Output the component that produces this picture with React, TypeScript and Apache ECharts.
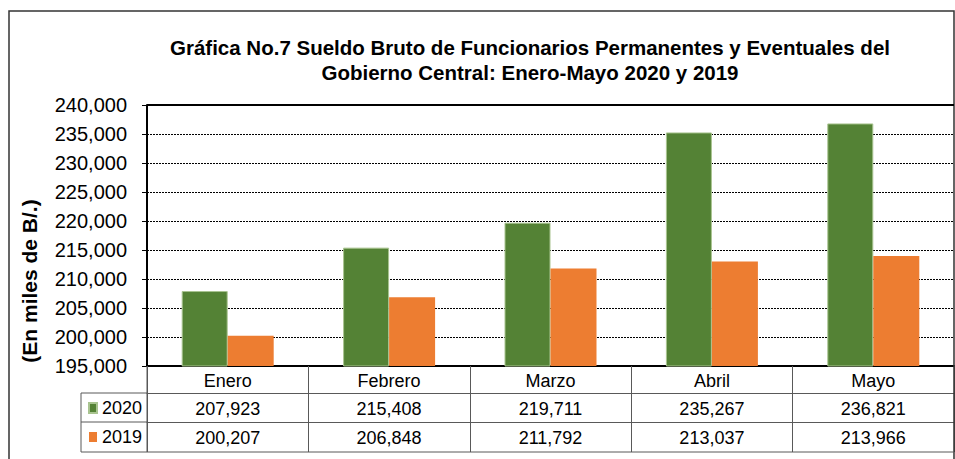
import React, { useEffect, useRef } from "react";
import * as echarts from "echarts";

const months = ["Enero", "Febrero", "Marzo", "Abril", "Mayo"];
const seriesNames = ["2020", "2019"];
const values2020 = [207923, 215408, 219711, 235267, 236821];
const values2019 = [200207, 206848, 211792, 213037, 213966];
const yMin = 195000;
const yMax = 240000;
const yInterval = 5000;

const FONT = "'Liberation Sans', Arial, sans-serif";
const fmt = (v: number) => v.toLocaleString("en-US");

export default function App() {
  const ref = useRef<HTMLDivElement>(null);
  useEffect(() => {
    if (!ref.current) return;
    const chart = echarts.init(ref.current, null, { renderer: "svg" });
    const W = 955;
    const H = 459;
    const gLeft = 147;
    const gRight = 954;
    const gTop = 105;
    const gBottom = 366;
    const row1 = 393;
    const row2 = 422;
    const row3 = 452;
    const tableLeft = 81;
    const lineCol = "#595959";
    chart.setOption({
      animation: false,
      backgroundColor: "#fff",
      textStyle: { fontFamily: FONT },
      title: {
        text: "Gráfica No.7 Sueldo Bruto de Funcionarios Permanentes y Eventuales del\nGobierno Central: Enero-Mayo 2020 y 2019",
        left: 525,
        top: 30,
        textAlign: "center",
        textStyle: { fontSize: 20.5, fontWeight: "bold", color: "#000", lineHeight: 25, fontFamily: FONT },
      },
      legend: {
        orient: "vertical",
        left: 83,
        top: 394,
        itemWidth: 8,
        itemHeight: 10,
        itemGap: 11,
        icon: "rect",
        data: seriesNames,
        textStyle: { fontSize: 18, color: "#000", fontFamily: FONT },
      },
      grid: { left: gLeft, right: W - gRight, top: gTop, bottom: H - gBottom, containLabel: false },
      xAxis: [
        {
          type: "category",
          data: months,
          position: "bottom",
          axisLine: { lineStyle: { color: "#000", width: 2 } },
          axisTick: { show: true, length: row1 - gBottom, lineStyle: { color: lineCol } },
          axisLabel: { fontSize: 18, color: "#000", margin: 6, fontFamily: FONT },
        },
        {
          type: "category",
          data: values2020.map(fmt),
          position: "bottom",
          offset: row1 - gBottom,
          axisLine: { lineStyle: { color: lineCol, width: 1 } },
          axisTick: { show: true, length: row2 - row1, lineStyle: { color: lineCol } },
          axisLabel: { fontSize: 18, color: "#000", margin: 7, fontFamily: FONT },
        },
        {
          type: "category",
          data: values2019.map(fmt),
          position: "bottom",
          offset: row2 - gBottom,
          axisLine: { lineStyle: { color: lineCol, width: 1 } },
          axisTick: { show: true, length: row3 - row2, lineStyle: { color: lineCol } },
          axisLabel: { fontSize: 18, color: "#000", margin: 7, fontFamily: FONT },
        },
      ],
      yAxis: {
        type: "value",
        min: yMin,
        max: yMax,
        interval: yInterval,
        axisLine: { show: true, lineStyle: { color: "#000", width: 2 } },
        axisTick: { show: true, length: 5, lineStyle: { color: "#000" } },
        axisLabel: { fontSize: 20, color: "#000", margin: 20, fontFamily: FONT, formatter: (v: number) => fmt(v) },
        splitLine: { show: true, lineStyle: { color: "#000", type: [2, 1], width: 1 } },
      },
      series: [
        {
          name: seriesNames[0],
          type: "bar",
          data: values2020,
          barGap: "0%",
          barCategoryGap: "43%",
          itemStyle: { color: "#548235", borderColor: "#a9c490", borderWidth: 1 },
        },
        {
          name: seriesNames[1],
          type: "bar",
          data: values2019,
          barGap: "0%",
          barCategoryGap: "43%",
          itemStyle: { color: "#ED7D31" },
        },
      ],
      graphic: [
        {
          type: "rect",
          shape: { x: 9, y: 11, width: 945, height: 470 },
          style: { fill: "none", stroke: "#333", lineWidth: 1.5 },
          z: 100,
        },
        {
          type: "line",
          shape: { x1: gLeft, y1: gTop, x2: gRight, y2: gTop },
          style: { stroke: "#000", lineWidth: 2 },
          z: 100,
        },
        {
          type: "line",
          shape: { x1: tableLeft, y1: row3, x2: gRight, y2: row3 },
          style: { stroke: lineCol, lineWidth: 1 },
          z: 100,
        },
        {
          type: "line",
          shape: { x1: tableLeft, y1: row1, x2: gLeft, y2: row1 },
          style: { stroke: lineCol, lineWidth: 1 },
          z: 100,
        },
        {
          type: "line",
          shape: { x1: tableLeft, y1: row2, x2: gLeft, y2: row2 },
          style: { stroke: lineCol, lineWidth: 1 },
          z: 100,
        },
        {
          type: "line",
          shape: { x1: tableLeft, y1: row1, x2: tableLeft, y2: row3 },
          style: { stroke: lineCol, lineWidth: 1 },
          z: 100,
        },
        {
          type: "line",
          shape: { x1: gLeft, y1: gBottom, x2: gLeft, y2: row3 },
          style: { stroke: lineCol, lineWidth: 1 },
          z: 100,
        },
        {
          type: "text",
          x: 29,
          y: 281,
          rotation: Math.PI / 2,
          style: {
            text: "(En miles de B/.)",
            font: "bold 21px " + FONT,
            fill: "#000",
            align: "center",
            verticalAlign: "middle",
          },
          z: 100,
        },
      ],
    });
    return () => chart.dispose();
  }, []);
  return (
    <div
      ref={ref}
      style={{ position: "fixed", left: 0, top: 0, width: 955, height: 459 }}
    />
  );
}
